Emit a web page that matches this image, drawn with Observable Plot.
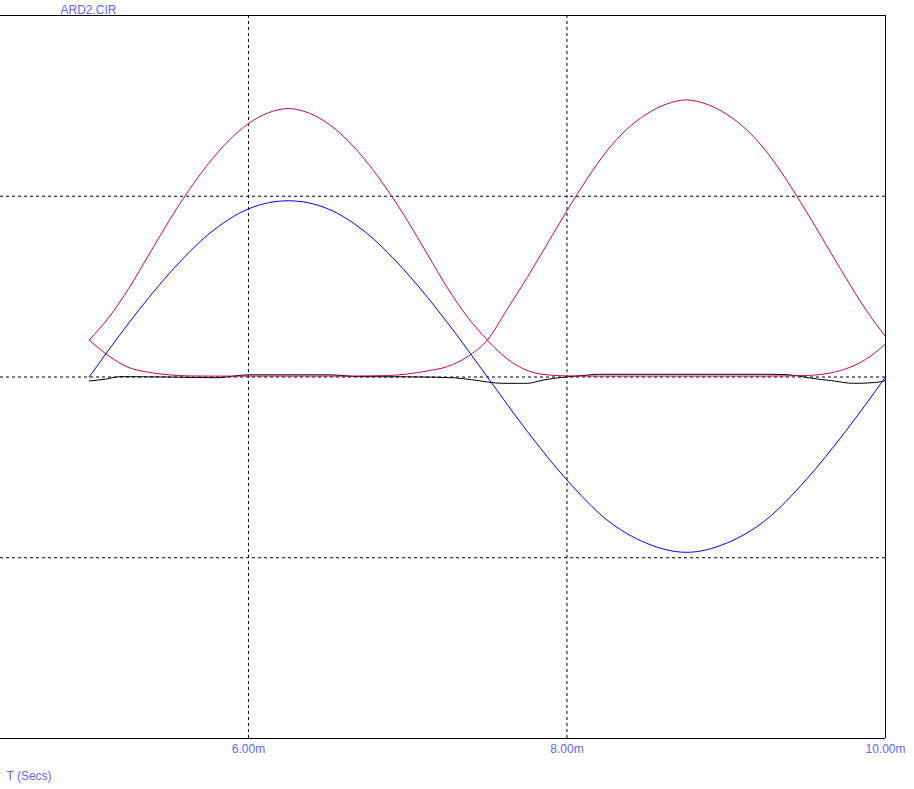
<!DOCTYPE html>
<html>
<head>
<meta charset="utf-8">
<script src="https://cdn.jsdelivr.net/npm/d3@7"></script>
<script src="https://cdn.jsdelivr.net/npm/@observablehq/plot@0.6"></script>
<style>
  html, body { margin: 0; padding: 0; background: #fff; }
</style>
</head>
<body>
<div id="chart"></div>
<script>
// ---- data (time in ms) ----
const title = "ARD2.CIR";
const xLabel = "T (Secs)";
const xTicks = [6, 8, 10];
const xGrid = [6, 8];
const yGrid = [-1, 0, 1];

const blueT = [5, 5.25, 5.5, 5.75, 6, 6.25, 6.5, 6.75, 7, 7.25, 7.5, 7.75, 8, 8.25, 8.5, 8.75, 9, 9.25, 9.5, 9.75, 10];
const blueV = [0, 0.30, 0.57, 0.79, 0.93, 0.975, 0.93, 0.79, 0.57, 0.30, 0, -0.30, -0.57, -0.79, -0.92, -0.97, -0.92, -0.79, -0.57, -0.30, 0];

// magenta traces sampled every 0.125 ms from 5.0 to 10.0
const magT = [5.0, 5.125, 5.25, 5.375, 5.5, 5.625, 5.75, 5.875, 6.0, 6.125, 6.25, 6.375, 6.5, 6.625, 6.75, 6.875, 7.0, 7.125, 7.25, 7.375, 7.5,
              7.625, 7.75, 7.875, 8.0, 8.125, 8.25, 8.375, 8.5, 8.625, 8.75, 8.875, 9.0, 9.125, 9.25, 9.375, 9.5, 9.625, 9.75, 9.875, 10.0];
const magAV = [0.205, 0.332, 0.492, 0.677, 0.862, 1.032, 1.182, 1.307, 1.402, 1.462, 1.485, 1.462, 1.402, 1.307, 1.182, 1.032, 0.862, 0.677, 0.492, 0.332, 0.205,
               0.100, 0.036, 0.012, 0.006, 0.005, 0.005, 0.005, 0.005, 0.005, 0.005, 0.005, 0.005, 0.005, 0.005, 0.006, 0.008, 0.018, 0.045, 0.097, 0.183];
const magBV = [0.205, 0.115, 0.052, 0.026, 0.012, 0.006, 0.005, 0.005, 0.005, 0.005, 0.005, 0.005, 0.005, 0.005, 0.006, 0.008, 0.017, 0.034, 0.058, 0.112, 0.205,
               0.375, 0.550, 0.735, 0.920, 1.095, 1.250, 1.370, 1.455, 1.510, 1.533, 1.510, 1.455, 1.370, 1.250, 1.095, 0.920, 0.735, 0.550, 0.375, 0.223];

const blackT = [5.0, 5.1, 5.2, 5.5, 5.8, 6.0, 6.5, 6.7, 7.0, 7.3, 7.4, 7.6, 7.75, 7.85, 8.0, 8.1, 8.2, 9.3, 9.45, 9.5, 9.66, 9.8, 9.93, 10.0];
const blackV = [-0.022, -0.012, 0.002, 0.0, -0.004, 0.012, 0.012, 0.002, 0.001, -0.005, -0.015, -0.035, -0.035, -0.017, 0.001, 0.008, 0.015, 0.015, 0.007, -0.002, -0.020, -0.035, -0.031, -0.020];

// ---- build tables ----
const toRows = (T, V) => T.map((t, i) => ({t, v: V[i]}));
const blue = toRows(blueT, blueV);
const magA = toRows(magT, magAV);
const magB = toRows(magT, magBV);
const black = toRows(blackT, blackV);

const textColor = "#6464ff";
const magenta = "#c80064";
const xDomain = [4.443, 10];
const yDomain = [-2, 2];

const chart = Plot.plot({
  width: 914,
  height: 789,
  marginLeft: 0,
  marginRight: 29,
  marginTop: 15,
  marginBottom: 51,
  x: {domain: xDomain},
  y: {domain: yDomain, axis: null},
  style: {fontFamily: "'Liberation Sans', Arial, sans-serif", fontSize: "12px", background: "#fff"},
  marks: [
    Plot.ruleX(xGrid, {stroke: "#000", strokeDasharray: "3,3", strokeWidth: 1}),
    Plot.ruleY(yGrid, {stroke: "#000", strokeDasharray: "3,3", strokeWidth: 1}),
    Plot.line(black, {x: "t", y: "v", stroke: "#000", strokeWidth: 1, curve: "monotone-x"}),
    Plot.line(magA, {x: "t", y: "v", stroke: magenta, strokeWidth: 1, curve: "monotone-x"}),
    Plot.line(magB, {x: "t", y: "v", stroke: magenta, strokeWidth: 1, curve: "monotone-x"}),
    Plot.line(blue, {x: "t", y: "v", stroke: "#0000ff", strokeWidth: 1, curve: "monotone-x"}),
    Plot.ruleY([yDomain[1]], {stroke: "#000", strokeWidth: 1}),
    Plot.ruleY([yDomain[0]], {stroke: "#000", strokeWidth: 1}),
    Plot.ruleX([xDomain[1]], {stroke: "#000", strokeWidth: 1}),
    Plot.axisX({ticks: xTicks, tickFormat: d => d.toFixed(2) + "m", tickSize: 0, tickPadding: 6, color: textColor, label: null}),
    Plot.text([title], {text: d => d, frameAnchor: "top-left", dx: 60, dy: -2, textAnchor: "start", lineAnchor: "bottom", fill: textColor}),
    Plot.text([xLabel], {text: d => d, frameAnchor: "bottom-left", dx: 6, dy: 33, textAnchor: "start", lineAnchor: "top", fill: textColor})
  ]
});
document.getElementById("chart").appendChild(chart);
</script>
</body>
</html>
